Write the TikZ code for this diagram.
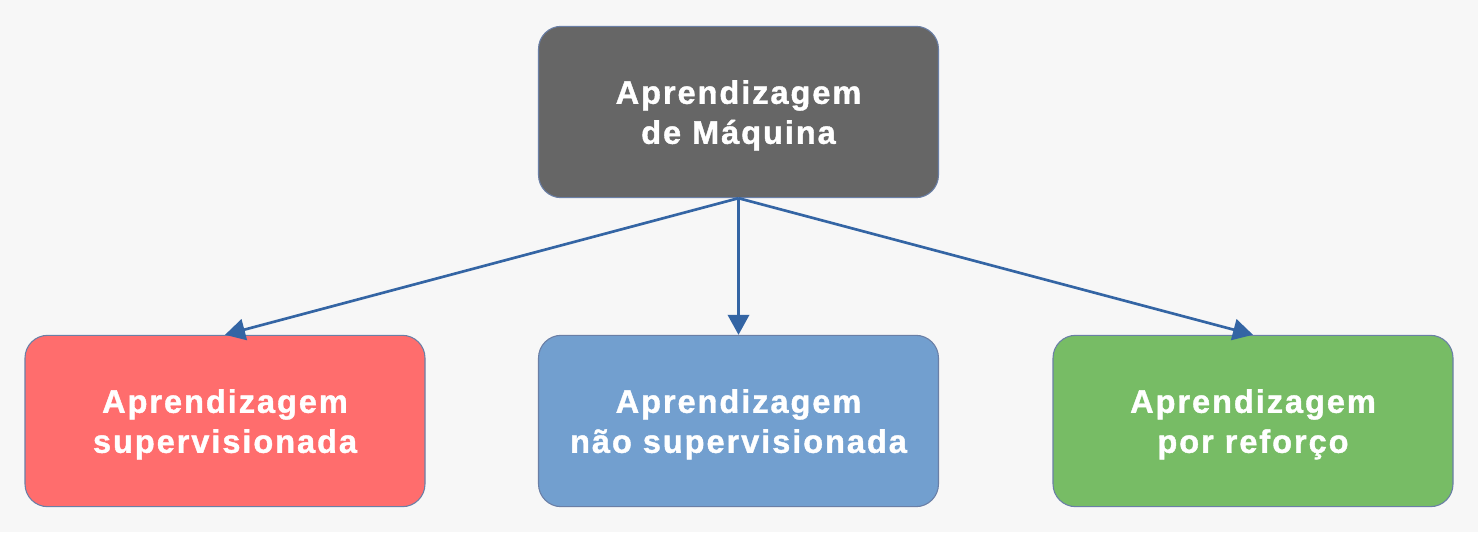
\documentclass[tikz,border=0pt]{standalone}
\usepackage{fontspec}
\setmainfont{Liberation Sans}
\newfontfamily\boxfont[LetterSpace=6,BoldFeatures={FakeBold=1.2}]{Liberation Sans}
\usetikzlibrary{arrows.meta}
\definecolor{bg}{HTML}{F7F7F7}
\definecolor{darkbox}{HTML}{666666}
\definecolor{redbox}{HTML}{FF6D6D}
\definecolor{bluebox}{HTML}{729FCF}
\definecolor{greenbox}{HTML}{77BC65}
\definecolor{edge}{HTML}{6A7FA6}
\definecolor{arrowc}{HTML}{3465A4}
\begin{document}
\begin{tikzpicture}[x=0.75pt,y=-0.75pt,
  box/.style={draw=edge,line width=0.8pt,rounded corners=17pt,minimum width=300pt,minimum height=128.5pt,
    inner sep=0pt,align=center,text=white,text depth=0pt,font=\boxfont\fontsize{24.4}{30}\selectfont\bfseries},
  conn/.style={draw=arrowc,line width=2pt,-{Triangle[length=15pt,width=16pt]}}]
\fill[bg] (0,0) rectangle (1478,532);
\useasboundingbox (0,0) rectangle (1478,532);
\node[box,fill=darkbox] (ml) at (738.5,112) {Aprendizagem\\de Máquina};
\node[box,fill=redbox] (sup) at (225,421) {Aprendizagem\\supervisionada};
\node[box,fill=bluebox] (nsup) at (738.5,421) {Aprendizagem\\não supervisionada};
\node[box,fill=greenbox] (ref) at (1253,421) {Aprendizagem\\por reforço};
\draw[conn] (ml.south) -- (sup.north);
\draw[conn] (ml.south) -- (nsup.north);
\draw[conn] (ml.south) -- (ref.north);
\end{tikzpicture}
\end{document}
